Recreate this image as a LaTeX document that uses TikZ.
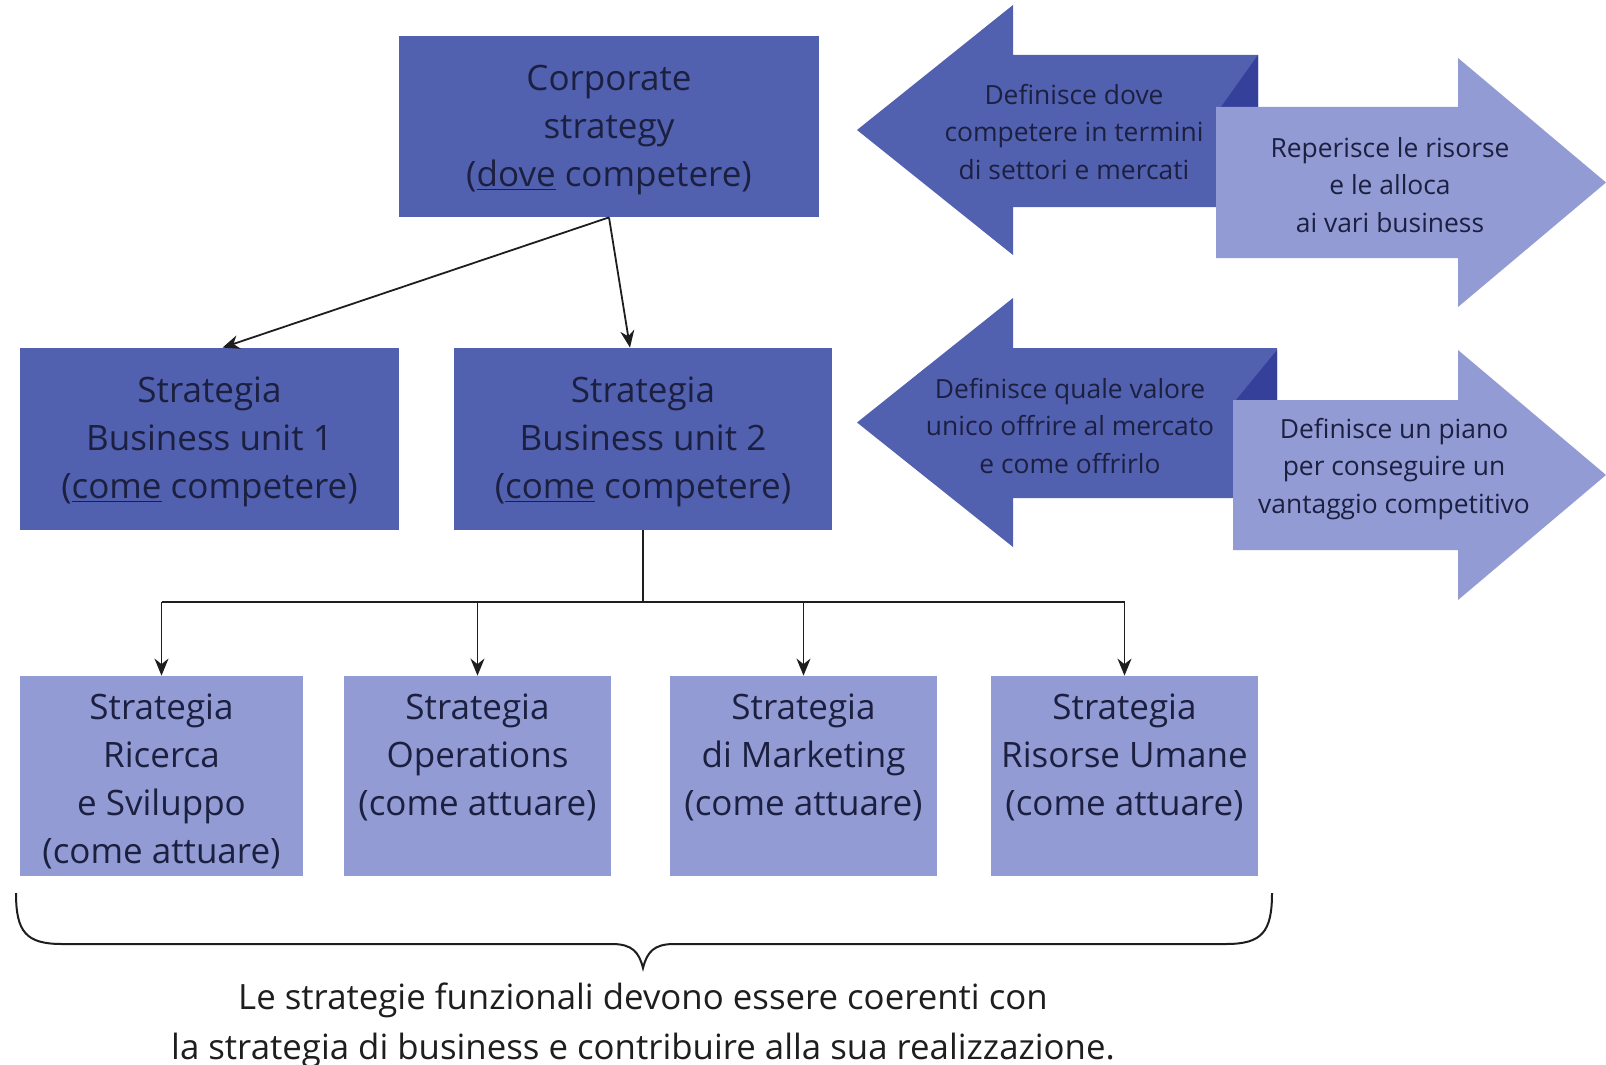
\documentclass[tikz,border=0pt]{standalone}
\usepackage{fontspec}
\setmainfont{Open Sans}
\usetikzlibrary{arrows.meta,fit}

\definecolor{boxdark}{RGB}{82,96,176}
\definecolor{boxlight}{RGB}{146,155,212}
\definecolor{folddark}{RGB}{52,64,154}
\definecolor{inktext}{RGB}{28,32,64}
\definecolor{linegray}{RGB}{30,30,30}

\tikzset{
  darkbox/.style={fill=boxdark, draw=none, inner sep=0pt},
  lightbox/.style={fill=boxlight, draw=none, inner sep=0pt},
  boxtext/.style={text=inktext, align=center, inner sep=0pt,
    font=\fontsize{17.5}{24}\selectfont},
  arrowtext/.style={text=inktext, align=center, inner sep=0pt,
    font=\fontsize{13.2}{18.7}\selectfont},
  notetext/.style={text=linegray, align=center, inner sep=0pt,
    font=\fontsize{17.4}{25}\selectfont},
  conn/.style={draw=linegray, line width=0.9pt,
    -{Stealth[length=8.5pt,width=7pt]}},
  plainline/.style={draw=linegray, line width=0.9pt},
}

\begin{document}
\begin{tikzpicture}[x=0.5pt,y=-0.5pt]
\fill[white] (0,0) rectangle (1606,1065);
\useasboundingbox (0,0) rectangle (1606,1065);

% ---- big double arrows on the right ----
% corporate level
\fill[boxdark] (857,130) -- (1013,5) -- (1013,55) -- (1258,55) -- (1258,207)
  -- (1013,207) -- (1013,255) -- cycle;
\fill[folddark] (1221,107) -- (1258,55) -- (1258,107) -- cycle;
\fill[boxlight] (1216,107) -- (1458,107) -- (1458,58) -- (1606,182.5)
  -- (1458,307) -- (1458,258) -- (1216,258) -- cycle;
\node[arrowtext] (corpleft) at (1074,132)
  {Definisce dove\\competere in termini\\di settori e mercati};
\node[arrowtext] (corpright) at (1390,185)
  {Reperisce le risorse\\e le alloca\\ai vari business};

% business level
\fill[boxdark] (857,422.5) -- (1013,298) -- (1013,348) -- (1277,348) -- (1277,498)
  -- (1013,498) -- (1013,547) -- cycle;
\fill[folddark] (1236,400) -- (1277,350) -- (1277,400) -- cycle;
\fill[boxlight] (1233,400) -- (1458,400) -- (1458,350) -- (1606,475)
  -- (1458,600) -- (1458,550) -- (1233,550) -- cycle;
\node[arrowtext] (busleft) at (1070,426)
  {Definisce quale valore\\unico offrire al mercato\\e come offrirlo};
\node[arrowtext] (busright) at (1394,469)
  {Definisce un piano\\per conseguire un\\vantaggio competitivo};

% ---- strategy boxes ----
\node[darkbox, fit={(399,36) (819,217)}] (corp) {};
\node[boxtext] (corp-t) at (609,130)
  {Corporate\\strategy\\(\underline{dove} competere)};

\node[darkbox, fit={(20,348) (399,530)}] (bu1) {};
\node[boxtext] (bu1-t) at (209.5,442)
  {Strategia\\Business unit 1\\(\underline{come} competere)};

\node[darkbox, fit={(454,348) (832,530)}] (bu2) {};
\node[boxtext] (bu2-t) at (643,442)
  {Strategia\\Business unit 2\\(\underline{come} competere)};

\node[lightbox, fit={(20,676) (303,876)}] (f1) {};
\node[boxtext] (f1-t) at (161.5,781)
  {Strategia\\Ricerca\\e Sviluppo\\(come attuare)};

\node[lightbox, fit={(344,676) (611,876)}] (f2) {};
\node[boxtext] (f2-t) at (477.5,757)
  {Strategia\\Operations\\(come attuare)};

\node[lightbox, fit={(670,676) (937,876)}] (f3) {};
\node[boxtext] (f3-t) at (803.5,757)
  {Strategia\\di Marketing\\(come attuare)};

\node[lightbox, fit={(991,676) (1258,876)}] (f4) {};
\node[boxtext] (f4-t) at (1124.5,757)
  {Strategia\\Risorse Umane\\(come attuare)};

% ---- connectors ----
\draw[conn] (corp.south) -- ([xshift=6.5pt]bu1.north);
\draw[conn] (corp.south) -- ([xshift=-6.5pt]bu2.north);

\coordinate (split) at (643,602);
\draw[plainline] (bu2.south) -- (split);
\draw[plainline] (f1.north |- split) -- (f4.north |- split);
\draw[conn] (f1.north |- split) -- (f1.north);
\draw[conn] (f2.north |- split) -- (f2.north);
\draw[conn] (f3.north |- split) -- (f3.north);
\draw[conn] (f4.north |- split) -- (f4.north);

% ---- brace under the functional strategies ----
\draw[linegray, line width=1pt]
  (16,893) .. controls (16,932) and (26,944) .. (62,944)
  -- (612,944) .. controls (632,944) and (639,952) .. (643,968)
  .. controls (647,952) and (654,944) .. (674,944)
  -- (1226,944) .. controls (1262,944) and (1272,932) .. (1272,893);

\node[notetext] (note) at (643,1025)
  {Le strategie funzionali devono essere coerenti con\\la strategia di business e contribuire alla sua realizzazione.};
\end{tikzpicture}
\end{document}
